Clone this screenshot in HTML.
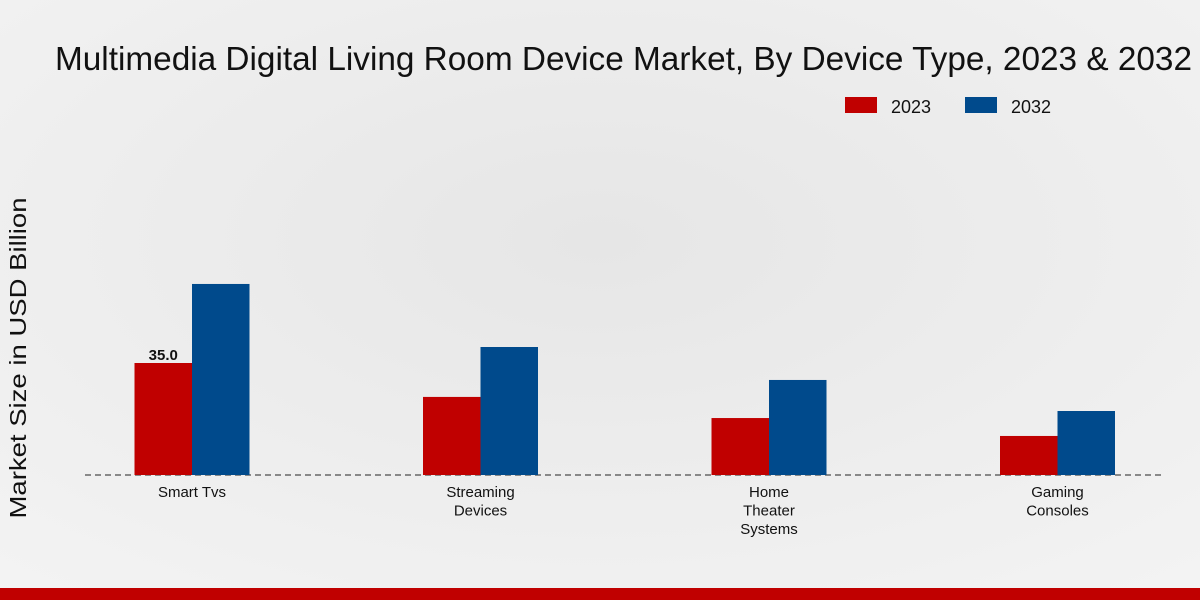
<!DOCTYPE html>
<html><head><meta charset="utf-8"><style>
body{margin:0;width:1200px;height:600px;overflow:hidden;font-family:"Liberation Sans","DejaVu Sans",sans-serif}
svg{display:block}
</style></head><body>
<svg width="1200" height="600">
<defs><radialGradient id="bg" cx="0.5" cy="0.4" r="0.8"><stop offset="0" stop-color="#e6e6e6"/><stop offset="1" stop-color="#f4f4f4"/></radialGradient></defs>
<rect width="1200" height="600" fill="url(#bg)"/>
<text x="55" y="70" font-size="33" fill="#111" textLength="1137" lengthAdjust="spacingAndGlyphs">Multimedia Digital Living Room Device Market, By Device Type, 2023 &amp; 2032</text>
<g>
<rect x="845" y="97" width="32" height="16" fill="#c00000"/>
<text x="891" y="113" font-size="18" fill="#111">2023</text>
<rect x="965" y="97" width="32" height="16" fill="#004a8c"/>
<text x="1011" y="113" font-size="18" fill="#111">2032</text>
</g>
<text transform="translate(26,358) rotate(-90)" text-anchor="middle" font-size="23" fill="#111" textLength="321" lengthAdjust="spacingAndGlyphs">Market Size in USD Billion</text>
<line x1="85" y1="475" x2="1165" y2="475" stroke="#222" stroke-dasharray="6,4"/>
<g id="bars"></g>
<rect x="0" y="588" width="1200" height="12" fill="#c00000"/>
</svg>
<script>
const categories=[["Smart Tvs"],["Streaming","Devices"],["Home","Theater","Systems"],["Gaming","Consoles"]];
const values2023=[35.0,24.4,17.8,12.2];
const values2032=[59.7,40.0,29.7,20.0];
const labels2023=["35.0",null,null,null];
const NS="http://www.w3.org/2000/svg";
const g=document.getElementById("bars");
const base=475, scale=3.2, x0=192, step=288.5, bw=57.5;
function y(v){return base-v*scale;}
function cx(i){return x0+i*step;}
function mk(tag,attrs){const e=document.createElementNS(NS,tag);for(const k in attrs)e.setAttribute(k,attrs[k]);g.appendChild(e);return e;}
categories.forEach((c,i)=>{
  const r=mk("rect",{x:cx(i)-bw,y:y(values2023[i]),width:bw,height:base-y(values2023[i]),fill:"#c00000"});
  
  
  const b=mk("rect",{x:cx(i),y:y(values2032[i]),width:bw,height:base-y(values2032[i]),fill:"#004a8c"});
  
  
  if(labels2023[i]){
    const t=mk("text",{x:cx(i)-bw/2,y:y(values2023[i])-3,"text-anchor":"middle","font-size":"15","font-weight":"bold",fill:"#111"});
    t.textContent=labels2023[i];
    
    
  }
  c.forEach((line,j)=>{
    const t=mk("text",{x:cx(i),y:497+j*18.5,"text-anchor":"middle","font-size":"15",fill:"#111"});
    t.textContent=line;
    
    
  });
});
</script>
</body></html>
